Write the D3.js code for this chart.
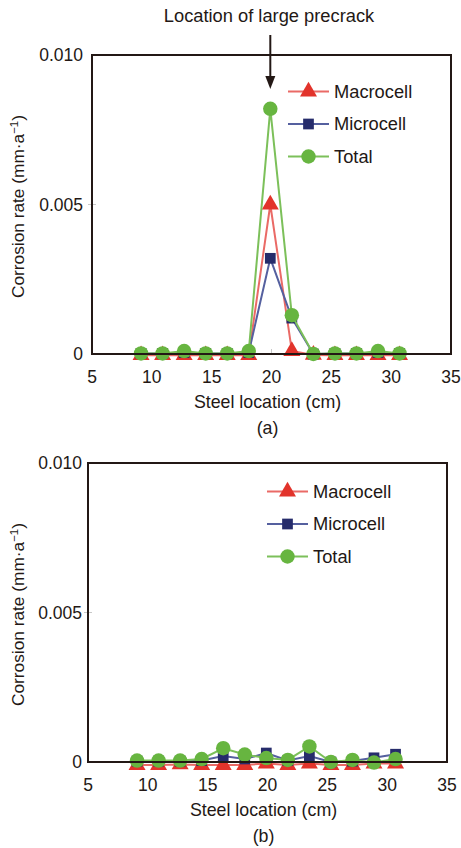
<!DOCTYPE html>
<html>
<head>
<meta charset="utf-8">
<script src="https://cdn.jsdelivr.net/npm/d3@7"></script>
<style>
  body { margin: 0; background: #fff; }
  text { font-family: "Liberation Sans", Arial, sans-serif; fill: #231815; }
</style>
</head>
<body>
<svg></svg>
<script>
// steel bar positions (cm)
const steelLocation = [9.1, 10.9, 12.7, 14.5, 16.3, 18.1, 19.9, 21.7, 23.5, 25.3, 27.1, 28.9, 30.7];

// panel (a) - large precrack at 20 cm
const macroA = [-0.00004, -0.00004, -0.00004, -0.00004, -0.00004, -0.00004, 0.0050, 0.0001, -0.00003, -0.00004, -0.00004, -0.00004, -0.00004];
const microA = [0.00002, 0.00002, 0.00005, 0.00002, 0.00002, 0.00005, 0.0032, 0.0012, 0.0, 0.00002, 0.00002, 0.00005, 0.00002];
const totalA = [0.00002, 0.00002, 0.0001, 0.00002, 0.00002, 0.0001, 0.0082, 0.0013, 0.0, 0.00002, 0.00002, 0.0001, 0.00002];

// panel (b)
const macroB = [-0.0001, -0.0001, -0.00008, -0.0001, -0.0001, -0.0001, -0.00005, -0.0001, -0.00005, -0.0001, -0.0001, -0.00005, -0.00005];
const microB = [0.00003, 0.00003, 0.00003, 0.00005, 0.0002, 0.0001, 0.0003, 0.00005, 0.0002, 0.0, 0.00003, 0.00014, 0.00026];
const totalB = [0.00005, 0.00005, 0.00005, 0.0001, 0.00046, 0.00025, 0.00013, 0.00007, 0.00052, 0.0, 0.00007, -0.00002, 0.0001];

const xTicks = [5, 10, 15, 20, 25, 30, 35];
const yTicks = [0, 0.005, 0.010];
const yTickLabels = ["0", "0.005", "0.010"];
const seriesNames = ["Macrocell", "Microcell", "Total"];

const styles = {
    Macrocell: { line: "#ea6a66", fill: "#e2332b", shape: d3.symbolTriangle, size: 125 },
    Microcell: { line: "#55609f", fill: "#262c6b", shape: d3.symbolSquare, size: 115 },
    Total: { line: "#7cc05a", fill: "#67b540", shape: d3.symbolCircle, size: 165 }
};

const svg = d3.select("svg").attr("width", 461).attr("height", 848);

// title + arrow pointing at the precrack
svg.append("text")
    .attr("x", 269).attr("y", 22)
    .attr("text-anchor", "middle")
    .attr("font-size", 18.3)
    .text("Location of large precrack");

function drawPanel(cfg) {
    const w = 359, h = 299;
    const g = svg.append("g").attr("transform", `translate(${cfg.left},${cfg.top})`);

    const x = d3.scaleLinear().domain([5, 35]).range([0, w]);
    const y = d3.scaleLinear().domain([0, 0.010]).range([h, 0]);

    // faint ticks
    g.selectAll(".ytick").data(yTicks.slice(1, 2)).join("line")
        .attr("x1", -4).attr("x2", 4)
        .attr("y1", d => y(d)).attr("y2", d => y(d))
        .attr("stroke", "#c8c8c8");
    g.selectAll(".xtick").data([20]).join("line")
        .attr("x1", d => x(d)).attr("x2", d => x(d))
        .attr("y1", h).attr("y2", h - 5)
        .attr("stroke", "#c8c8c8");

    // tick labels
    g.selectAll(".ylab").data(yTicks).join("text")
        .attr("x", -cfg.yPad)
        .attr("y", d => y(d))
        .attr("dy", "0.35em")
        .attr("text-anchor", "end")
        .attr("font-size", 17.5)
        .text((d, i) => yTickLabels[i]);
    g.selectAll(".xlab").data(xTicks).join("text")
        .attr("x", d => x(d))
        .attr("y", h + cfg.xLabY)
        .attr("dy", "0.35em")
        .attr("text-anchor", "middle")
        .attr("font-size", 17.5)
        .text(d => d);

    g.append("text")
        .attr("x", w / 2 - 4).attr("y", h + cfg.xLabY + 25)
        .attr("dy", "0.35em")
        .attr("text-anchor", "middle")
        .attr("font-size", 17.8)
        .text("Steel location (cm)");
    g.append("text")
        .attr("x", w / 2 - 4).attr("y", h + cfg.xLabY + 51)
        .attr("dy", "0.35em")
        .attr("text-anchor", "middle")
        .attr("font-size", 17.8)
        .text(cfg.tag);

    const yt = g.append("text")
        .attr("transform", `translate(${-cfg.left + 18},${h / 2 + 2}) rotate(-90)`)
        .attr("dy", "0.35em")
        .attr("text-anchor", "middle")
        .attr("font-size", 17.3);
    yt.append("tspan").text("Corrosion rate (mm·a");
    yt.append("tspan").attr("dy", -6).attr("font-size", 11.5).text("−1");
    yt.append("tspan").attr("dy", 6).text(")");

    // series
    const line = d3.line().x(d => x(d[0])).y(d => y(d[1]));
    cfg.series.forEach((vals, i) => {
        const st = styles[seriesNames[i]];
        const pts = steelLocation.map((l, j) => [l, vals[j]]);
        g.append("path").datum(pts)
            .attr("d", line)
            .attr("fill", "none")
            .attr("stroke", st.line)
            .attr("stroke-width", 2);
        g.selectAll(".m" + i).data(pts).join("path")
            .attr("transform", d => `translate(${x(d[0])},${y(d[1])})`)
            .attr("d", d3.symbol().type(st.shape).size(st.size))
            .attr("fill", st.fill);
    });

    // frame
    g.append("rect")
        .attr("width", w).attr("height", h)
        .attr("fill", "none")
        .attr("stroke", "#231815")
        .attr("stroke-width", 2);

    // legend
    const lg = g.append("g").attr("transform", `translate(${cfg.legX},${cfg.legY})`);
    seriesNames.forEach((name, i) => {
        const st = styles[name];
        const row = lg.append("g").attr("transform", `translate(0,${i * 32.5})`);
        row.append("line").attr("x1", 0).attr("x2", 41)
            .attr("stroke", st.line).attr("stroke-width", 2);
        row.append("path")
            .attr("transform", "translate(20.5,0)")
            .attr("d", d3.symbol().type(st.shape).size(st.size))
            .attr("fill", st.fill);
        row.append("text")
            .attr("x", 46).attr("dy", "0.35em")
            .attr("font-size", 18.3)
            .text(name);
    });
    return { x, y, g };
}

const pa = drawPanel({
    left: 92, top: 55, yPad: 9, xLabY: 23, tag: "(a)",
    legX: 196, legY: 36.5,
    series: [macroA, microA, totalA]
});
drawPanel({
    left: 88, top: 463, yPad: 6, xLabY: 23, tag: "(b)",
    legX: 179, legY: 28.5,
    series: [macroB, microB, totalB]
});

// arrow
const ax = 92 + pa.x(19.9);
svg.append("line")
    .attr("x1", ax).attr("x2", ax)
    .attr("y1", 35).attr("y2", 78)
    .attr("stroke", "#231815").attr("stroke-width", 2);
svg.append("path")
    .attr("d", `M${ax - 5},76 L${ax + 5},76 L${ax},89 Z`)
    .attr("fill", "#231815");
</script>
</body>
</html>
